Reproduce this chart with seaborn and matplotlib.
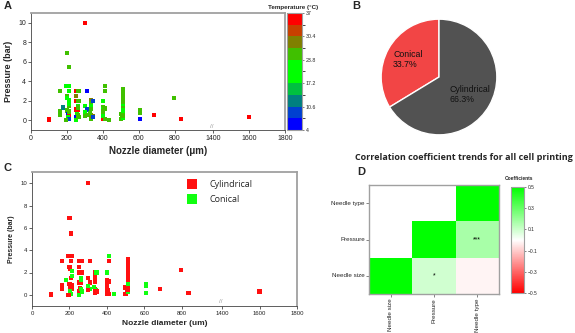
import numpy as np
import pandas as pd
import matplotlib
matplotlib.use("Agg")
import matplotlib.pyplot as plt
import seaborn as sns
from matplotlib.colors import ListedColormap, BoundaryNorm, LinearSegmentedColormap
from matplotlib.cm import ScalarMappable
from matplotlib.transforms import blended_transform_factory

# nozzle diameter (um), pressure (bar), temperature (C), needle type
nozzle = [100, 100, 300, 200, 210, 160, 160, 160, 160, 195, 212, 210, 200, 202, 210,
          180, 213, 213, 200, 205, 213, 205, 210, 195, 213, 250, 265, 250, 250, 265,
          250, 262, 255, 250, 252, 262, 262, 262, 250, 265, 310, 300, 310, 300, 310,
          300, 335, 335, 335, 335, 335, 335, 345, 343, 330, 345, 400, 400, 400, 400,
          400, 400, 400, 400, 403, 413, 413, 413, 410, 437, 500, 500, 515, 515, 515,
          515, 515, 515, 515, 515, 515, 515, 515, 512, 512, 510, 608, 608, 608, 685,
          798, 836, 1600]
pressure = [0.0, 0.1, 10.0, 6.9, 5.5, 3.0, 0.9, 0.7, 0.5, 3.5, 3.5, 3.0, 2.5, 2.3, 1.5,
            1.3, 2.1, 1.7, 1.0, 0.6, 0.5, 0.3, 0.1, 0.0, 0.9, 3.0, 3.0, 2.5, 2.0, 2.0,
            1.1, 1.1, 0.6, 0.3, 0.1, 1.5, 1.3, 0.5, 0.0, 0.3, 3.0, 1.5, 1.1, 0.8, 0.55,
            0.4, 2.05, 1.75, 1.5, 1.15, 0.55, 0.15, 2.0, 0.4, 0.7, 0.3, 2.0, 1.3, 1.1, 0.9,
            0.7, 0.5, 0.3, 0.1, 0.4, 3.5, 3.0, 0.1, 1.2, 0.05, 0.65, 0.1, 3.2, 3.0, 2.8,
            2.6, 2.4, 2.2, 2.0, 1.8, 1.5, 1.2, 0.8, 1.0, 0.25, 0.4, 1.0, 0.8, 0.15, 0.5,
            2.25, 0.15, 0.3]
temperature = [37, 37, 37, 26, 26, 26, 26, 26, 26, 20, 20, 20, 26, 20, 26,
               12, 20, 20, 26, 5, 37, 20, 8, 26, 26, 37, 26, 29, 37, 26,
               37, 37, 20, 5, 5, 20, 26, 26, 20, 26, 5, 20, 8, 20, 26,
               26, 29, 26, 20, 26, 29, 26, 8, 29, 26, 8, 20, 26, 20, 26,
               26, 26, 37, 37, 20, 26, 26, 26, 26, 26, 26, 26, 26, 26, 26,
               26, 26, 26, 26, 26, 20, 26, 26, 20, 20, 26, 26, 26, 5, 37,
               26, 37, 37]
needle = ["Cylindrical"] * 15 + ["Conical", "Conical", "Conical", "Cylindrical", "Cylindrical",
          "Cylindrical", "Conical", "Conical", "Cylindrical", "Cylindrical"] + \
         ["Cylindrical"] * 10 + ["Conical"] * 5 + \
         ["Cylindrical", "Cylindrical", "Cylindrical", "Conical", "Conical", "Cylindrical"] + \
         ["Cylindrical"] * 6 + ["Conical", "Conical", "Conical", "Cylindrical"] + \
         ["Conical"] + ["Cylindrical"] * 8 + ["Conical", "Cylindrical", "Cylindrical", "Cylindrical",
         "Conical", "Cylindrical", "Cylindrical"] + ["Cylindrical"] * 11 + \
         ["Conical", "Conical", "Cylindrical", "Conical", "Conical", "Conical",
          "Cylindrical", "Cylindrical", "Cylindrical", "Cylindrical"]

df = pd.DataFrame({"nozzle": nozzle, "pressure": pressure,
                   "temperature": temperature, "needle": needle})

# pie
pie_labels = ["Conical", "Cylindrical"]
pie_values = [33.7, 66.3]

# correlation
corr_rows = ["Needle type", "Pressure", "Needle size"]
corr_cols = ["Needle size", "Pressure", "Needle type"]
corr_vals = [[np.nan, np.nan, 0.5],
             [np.nan, 0.5, 0.17],
             [0.5, 0.09, -0.02]]
corr_marks = [["", "", ""],
              ["", "", "***"],
              ["", "*", ""]]

temp_ticks = [4, 10.6, 17.2, 23.8, 30.4, 37]
temp_colors = ["#0000ff", "#0040d0", "#008080", "#00c040", "#00ff00",
               "#00ff00", "#40c000", "#808000", "#c84000", "#ff0000"]

sns.set_style("white")
plt.rcParams["font.family"] = ["Liberation Sans", "DejaVu Sans"]

fig = plt.figure(figsize=(5.75, 3.33), dpi=100)
W, H = 575, 333


def axes_px(l, t, r, b):
    return fig.add_axes([l / W, 1 - b / H, (r - l) / W, (b - t) / H])


def fwd(x):
    x = np.asarray(x, dtype=float)
    return np.where(x <= 1000, x, np.where(x < 1400, 1000 + (x - 1000) * 0.04, x - 384))


def inv(x):
    x = np.asarray(x, dtype=float)
    return np.where(x <= 1000, x, np.where(x < 1016, 1000 + (x - 1000) / 0.04, x + 384))


def style_scatter_axes(ax, tick_fs):
    ax.set_xscale("function", functions=(fwd, inv))
    ax.set_xlim(0, 1800)
    ax.set_ylim(-1, 11)
    ax.set_xticks([0, 200, 400, 600, 800, 1400, 1600, 1800])
    ax.set_yticks([0, 2, 4, 6, 8, 10])
    ax.set_xticklabels(["0", "200", "400", "600", "800", "1400", "1600", "1800"])
    ax.tick_params(axis="both", labelsize=tick_fs, length=2, width=0.5, pad=1.5,
                   bottom=True, left=True, colors="#222222")
    for s in ["top", "right"]:
        ax.spines[s].set_color("#a0a0a0")
        ax.spines[s].set_linewidth(1.3)
    for s in ["left", "bottom"]:
        ax.spines[s].set_color("#444444")
        ax.spines[s].set_linewidth(0.6)
    # axis break mark
    tr = blended_transform_factory(ax.transData, ax.transAxes)
    ax.text(1200, 0.012, "//", transform=tr, ha="center", va="bottom", fontsize=4.5,
            color="#999999", zorder=5, clip_on=False)


# ---- A ----
cmap_t = ListedColormap(temp_colors)
norm_t = BoundaryNorm(np.linspace(4, 37, 11), cmap_t.N)
axA = axes_px(31, 13, 285, 130)
axA.scatter(df["nozzle"], df["pressure"], c=df["temperature"], cmap=cmap_t, norm=norm_t,
            marker="s", s=9, linewidths=0)
style_scatter_axes(axA, 5)
axA.set_xlabel("Nozzle diameter (\u03bcm)", fontsize=7, fontweight="bold", labelpad=3)
axA.set_ylabel("Pressure (bar)", fontsize=6.5, fontweight="bold", labelpad=4)

caxA = axes_px(287, 13, 302, 130)
cbA = fig.colorbar(ScalarMappable(norm=norm_t, cmap=cmap_t), cax=caxA)
cbA.set_ticks(temp_ticks)
cbA.set_ticklabels(["4", "10.6", "17.2", "23.8", "30.4", "37"])
cbA.ax.tick_params(labelsize=3.8, length=1.5, width=0.4, pad=1)
cbA.outline.set_edgecolor("#a0a0a0")
cbA.outline.set_linewidth(0.8)
fig.text(293 / W, 1 - 7 / H, "Temperature (\u00b0C)", fontsize=4.5, fontweight="bold",
         ha="center", va="center")

# ---- B ----
axB = axes_px(380, 18, 498, 136)
axB.pie(pie_values, labels=[f"{l}\n{v}%" for l, v in zip(pie_labels, pie_values)],
        colors=["#f24545", "#525252"], startangle=90, counterclock=True,
        labeldistance=0.62, wedgeprops=dict(edgecolor="white", linewidth=1),
        textprops=dict(fontsize=6.3, ha="center", va="center", multialignment="left",
                       color="#111111"))
axB.set_xlim(-1.02, 1.02)
axB.set_ylim(-1.02, 1.02)
axB.set_aspect("equal")

# ---- C ----
axC = axes_px(32, 172, 297, 306)
sns.scatterplot(data=df, x="nozzle", y="pressure", hue="needle",
                hue_order=["Cylindrical", "Conical"],
                palette={"Cylindrical": "#ff1010", "Conical": "#10ff10"},
                marker="s", s=9, linewidth=0, ax=axC)
style_scatter_axes(axC, 4.3)
axC.set_xlabel("Nozzle diameter (um)", fontsize=6, fontweight="bold", labelpad=3)
axC.set_ylabel("Pressure (bar)", fontsize=5, fontweight="bold", labelpad=4)
leg = axC.legend(loc="upper left", bbox_to_anchor=(0.54, 1.0), frameon=False,
                 markerscale=2.6, handletextpad=0.9, labelspacing=0.7,
                 prop={"family": "Open Sans", "size": 6.5})

# ---- D ----
axD = axes_px(369, 185, 499, 294)
cmap_c = LinearSegmentedColormap.from_list("rwg", ["#ff0000", "#ffffff", "#00ff00"])
caxD = axes_px(511, 187, 524, 293)
cdf = pd.DataFrame(corr_vals, index=corr_rows, columns=corr_cols)
sns.heatmap(cdf, cmap=cmap_c, vmin=-0.5, vmax=0.5, ax=axD, cbar_ax=caxD,
            annot=np.array(corr_marks), fmt="", annot_kws={"fontsize": 5, "color": "black"},
            mask=cdf.isna())
axD.tick_params(labelsize=4.5, length=2, width=0.4, pad=1, left=True, bottom=True)
axD.set_xticklabels(corr_cols, rotation=90)
axD.set_yticklabels(corr_rows, rotation=0)
for s in axD.spines.values():
    s.set_visible(True)
    s.set_color("#a0a0a0")
    s.set_linewidth(1)
cbD = axD.collections[0].colorbar
cbD.set_ticks([0.5, 0.3, 0.1, -0.1, -0.3, -0.5])
cbD.ax.tick_params(labelsize=3.5, length=1.5, width=0.4, pad=1)
cbD.outline.set_visible(True)
cbD.outline.set_edgecolor("#a0a0a0")
cbD.outline.set_linewidth(0.8)
fig.text(519 / W, 1 - 179 / H, "Coefficients", fontsize=3.5, fontweight="bold",
         ha="center", va="center")
fig.text(464 / W, 1 - 158 / H, "Correlation coefficient trends for all cell printing",
         fontsize=6.5, fontweight="bold", ha="center", va="center", family="Open Sans")

# panel letters
for letter, (px, py) in {"A": (4, 6), "B": (352, 6), "C": (4, 168), "D": (357, 172)}.items():
    fig.text(px / W, 1 - py / H, letter, fontsize=8, fontweight="bold", ha="left", va="center")

fig.savefig("out.png", dpi=100)
